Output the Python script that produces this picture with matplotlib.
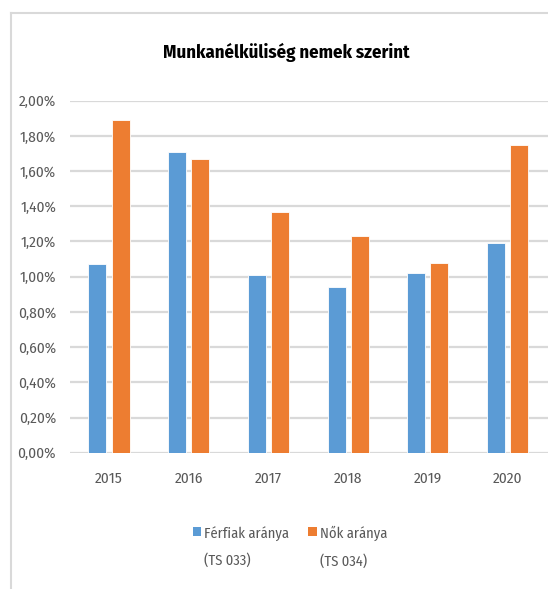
#!/usr/bin/env python3
# -*- coding: utf-8 -*-
"""Munkanélküliség nemek szerint - grouped bar chart."""
import numpy as np
import matplotlib
matplotlib.use("Agg")
import matplotlib.pyplot as plt
from matplotlib.patches import Rectangle
from matplotlib.legend_handler import HandlerPatch
from matplotlib.lines import Line2D
from matplotlib.ticker import FuncFormatter

years = ["2015", "2016", "2017", "2018", "2019", "2020"]
men = [1.07, 1.71, 1.01, 0.94, 1.02, 1.19]      # Férfiak aránya (TS 033), %
women = [1.89, 1.67, 1.37, 1.23, 1.08, 1.75]    # Nők aránya (TS 034), %
labels = ["Férfiak aránya\n(TS 033)", "Nők aránya\n(TS 034)"]
colors = ["#5b9bd5", "#ed7d31"]
yticks = np.arange(0, 2.01, 0.2)

plt.rcParams["font.family"] = ["Fira Sans Condensed", "Roboto Condensed", "Archivo Narrow", "DejaVu Sans"]
GREY = "#595959"

W, H = 548, 589
fig = plt.figure(figsize=(W / 100, H / 100), dpi=100)
ax = fig.add_axes([70 / W, (H - 452.7) / H, (W - 70) / W, (452.7 - 100.7) / H])

x = np.arange(len(years))
bw = 0.225
off = 0.145
for vals, dx, c in [(men, -off, colors[0]), (women, off, colors[1])]:
    ax.bar(x + dx, vals, width=bw, color=c, edgecolor="white", linewidth=0.6, zorder=3)

ax.set_xlim(-0.489, 5.508)
ax.set_ylim(0, 2.0)
ax.set_yticks(yticks)
ax.yaxis.set_major_formatter(FuncFormatter(lambda v, _: f"{v:.2f}%".replace(".", ",")))
ax.set_xticks(x)
ax.set_xticklabels(years)
ax.grid(axis="y", color="#d9d9d9", linewidth=1.6, zorder=0)
for s in ax.spines.values():
    s.set_visible(False)
ax.tick_params(axis="both", length=0, labelsize=11, labelcolor=GREY)
ax.tick_params(axis="y", pad=10)
ax.tick_params(axis="x", pad=14)

fig.text(286 / W, 1 - 52 / H, "Munkanélküliség nemek szerint", ha="center", va="center",
         fontsize=13.5, fontweight="bold", color="black")


class TopPatch(HandlerPatch):
    def create_artists(self, legend, orig_handle, xdescent, ydescent, width, height, fontsize, trans):
        p = Rectangle((-xdescent, -ydescent + fontsize * 1.1), width, height,
                      facecolor=orig_handle.get_facecolor(), edgecolor="none")
        p.set_transform(trans)
        return [p]


proxies = [Rectangle((0, 0), 1, 1, facecolor=c) for c in colors]
leg = fig.legend(proxies, labels, loc="center", bbox_to_anchor=(290 / W, 1 - 547 / H), ncol=2,
                 frameon=False, fontsize=10.5, labelcolor=GREY, handlelength=0.6, handleheight=0.6,
                 handletextpad=0.2, columnspacing=1.3,
                 handler_map={Rectangle: TopPatch()})
for t in leg.get_texts():
    t.set_linespacing(2.1)
    t.set_multialignment("left")

# outer chart frame (top and left edges visible)
fig.add_artist(Line2D([11 / W, 1.0], [1 - 13 / H, 1 - 13 / H], color="#d9d9d9", linewidth=1.5))
fig.add_artist(Line2D([11 / W, 11 / W], [0.0, 1 - 13 / H], color="#d9d9d9", linewidth=1.5))

fig.savefig("out.png", dpi=100)
